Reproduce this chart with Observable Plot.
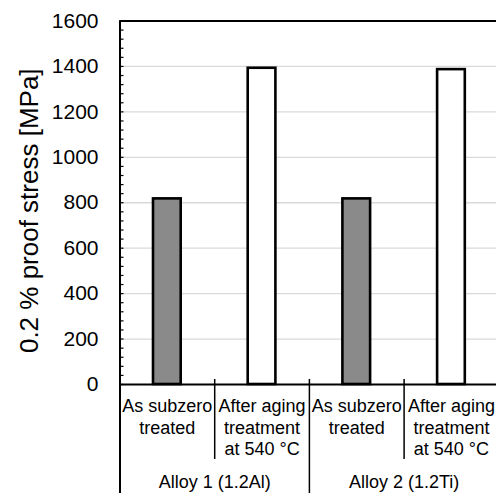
<!DOCTYPE html>
<html><head><meta charset="utf-8">
<script src="https://cdn.jsdelivr.net/npm/d3@7"></script>
<script src="https://cdn.jsdelivr.net/npm/@observablehq/plot@0.6"></script>
<style>html,body{margin:0;padding:0;background:#fff;overflow:hidden}</style>
</head><body><div id="chart"></div>
<script>
// ---- data ----
const groups = ["Alloy 1 (1.2Al)", "Alloy 2 (1.2Ti)"];
const treatments = ["As subzero\ntreated", "After aging\ntreatment\nat 540 °C"];
const alloy1Stress = [817, 1392];
const alloy2Stress = [817, 1386];
const yTicks = [0, 200, 400, 600, 800, 1000, 1200, 1400, 1600];
const yMinorStep = 40;
const yLabel = "0.2 % proof stress [MPa]";

// ---- derived table ----
const stressByGroup = [alloy1Stress, alloy2Stress];
const nT = treatments.length;
const rows = groups.flatMap((g, gi) => treatments.map((t, ti) => ({
  group: g, treatment: t, value: stressByGroup[gi][ti], pos: gi * nT + ti
})));
const nBands = rows.length;
const yMax = yTicks[yTicks.length - 1];
const minorTicks = d3.range(0, yMax + 1, yMinorStep);
const innerSeps = rows.filter(d => d.pos % nT !== 0).map(d => d.pos);
const groupSeps = d3.range(1, groups.length + 1).map(i => i * nT);

const W = 496, H = 493, mL = 119.5, mT = 20.5, mB = 109;
const bandPx = 94.7;

const chart = Plot.plot({
  width: W, height: H,
  marginLeft: mL, marginRight: 0, marginTop: mT, marginBottom: mB,
  style: {fontFamily: "'Liberation Sans', Arial, sans-serif", color: "#000", background: "#fff"},
  x: {type: "linear", domain: [0, nBands], range: [mL, mL + bandPx * nBands], axis: null},
  y: {domain: [0, yMax], axis: null},
  color: {domain: treatments, range: ["#8a8a8a", "#ffffff"]},
  marks: [
    Plot.gridY(yTicks.filter(v => v > 0 && v < yMax), {stroke: "#d9d9d9", strokeOpacity: 1, strokeWidth: 1.3}),
    Plot.rect(rows, {x1: "pos", x2: d => d.pos + 1, y1: 0, y2: "value", fill: "treatment",
      stroke: "#000", strokeWidth: 2.6, insetLeft: 33.5, insetRight: 33.5}),
    Plot.ruleY([yMax], {stroke: "#000", strokeWidth: 2}),
    Plot.ruleY([0], {stroke: "#000", strokeWidth: 2}),
    Plot.axisY(minorTicks, {tickSize: 4, dx: 4, tickFormat: () => "", label: null, strokeWidth: 1.2}),
    Plot.axisY(yTicks, {tickSize: 0, tickPadding: 21.5, fontSize: 21, label: null, tickFormat: d => String(d)}),
    Plot.ruleX([0], {stroke: "#000", strokeWidth: 2, insetBottom: -mB}),
    Plot.ruleX(groupSeps, {stroke: "#000", strokeWidth: 1.5, insetTop: 358.5, insetBottom: -mB}),
    Plot.ruleX(innerSeps, {stroke: "#000", strokeWidth: 1.5, insetTop: 358.5, insetBottom: -75}),
    Plot.text(rows, {x: d => d.pos + 0.5, text: "treatment", frameAnchor: "bottom",
      lineAnchor: "top", dy: 13, fontSize: 18, lineHeight: 1.17}),
    Plot.text(groups, {x: (d, i) => i * nT + nT / 2, text: d => d, frameAnchor: "bottom",
      lineAnchor: "middle", dy: 98, fontSize: 18}),
    Plot.text([yLabel], {text: d => d, frameAnchor: "left", textAnchor: "middle", rotate: -90,
      lineAnchor: "bottom", dx: -82, dy: 8, fontSize: 26})
  ]
});
document.getElementById("chart").appendChild(chart);
</script>
</body></html>
